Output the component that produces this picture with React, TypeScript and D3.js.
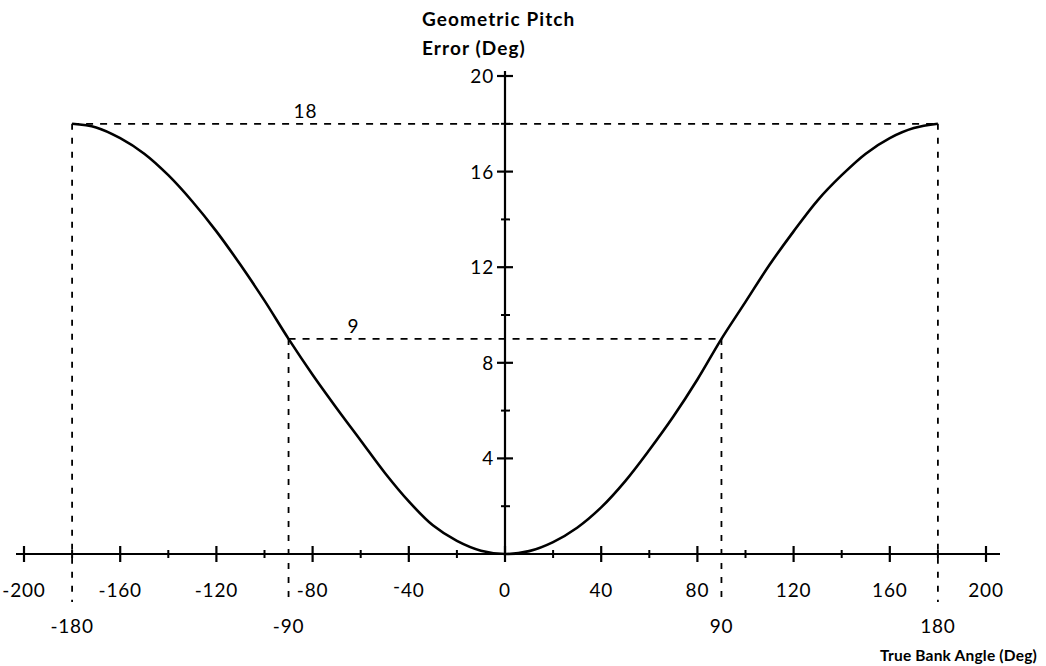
import React from "react";
import * as d3 from "d3";

const bankAngles = [-180, -170, -160, -150, -140, -130, -120, -110, -100, -90, -80, -70, -60, -50, -40, -30, -20, -10, 0,
  10, 20, 30, 40, 50, 60, 70, 80, 90, 100, 110, 120, 130, 140, 150, 160, 170, 180];
const pitchErrors = [18.0, 17.85, 17.4, 16.75, 15.85, 14.75, 13.5, 12.1, 10.6, 9.0, 7.5, 6.1, 4.75, 3.4, 2.2, 1.2, 0.55, 0.14, 0,
  0.12, 0.5, 1.1, 1.95, 3.05, 4.35, 5.75, 7.3, 9.0, 10.55, 12.1, 13.5, 14.8, 15.85, 16.75, 17.4, 17.82, 18.0];

const xMajorTicks = [-200, -160, -120, -80, -40, 0, 40, 80, 120, 160, 200];
const xMajorLabels = ["-200", "-160", "-120", "-80", "-40", "0", "40", "80", "120", "160", "200"];
const xMinorTicks = [-180, -140, -100, -60, -20, 20, 60, 100, 140, 180];
const xRefValues = [-180, -90, 90, 180];
const xRefLabels = ["-180", "-90", "90", "180"];
const yMajorTicks = [4, 8, 12, 16, 20];
const yMinorTicks = [2, 6, 10, 14, 18];
const refLevels = [18, 9];
const refLevelAngles = [180, 90];
const refLabelAngles = [-83, -63];

export default function App() {
  const W = 1046, H = 666;
  const x = d3.scaleLinear().domain([-200, 200]).range([24, 986]);
  const y = d3.scaleLinear().domain([0, 20]).range([554, 76]);
  const pts = bankAngles.map((a, i) => [a, pitchErrors[i]] as [number, number]);
  const line = d3.line<[number, number]>().x(d => x(d[0])).y(d => y(d[1])).curve(d3.curveCatmullRom.alpha(0.5));
  const font = "Lato, 'DejaVu Sans', sans-serif";
  const x0 = x(0), y0 = y(0);
  const renderLabel = (s: string) => {
    if (s === "-40") {
      return (<><tspan dy={-4}>-</tspan><tspan dy={4}>40</tspan></>);
    }
    return s;
  };
  return (
    <svg width={W} height={H} style={{ position: "absolute", left: 0, top: 0, background: "#fff" }} fontFamily={font}>
      {refLevels.map((lv, i) => (
        <g key={"r" + i} stroke="#000" strokeWidth={1.8} fill="none">
          <line x1={x(-refLevelAngles[i])} x2={x(refLevelAngles[i])} y1={y(lv)} y2={y(lv)} strokeDasharray="7,7" />
          <line x1={x(-refLevelAngles[i])} x2={x(-refLevelAngles[i])} y1={y(lv)} y2={602} strokeDasharray="6,8" />
          <line x1={x(refLevelAngles[i])} x2={x(refLevelAngles[i])} y1={y(lv)} y2={602} strokeDasharray="6,8" />
        </g>
      ))}
      {refLevels.map((lv, i) => (
        <text key={"rl" + i} x={x(refLabelAngles[i])} y={y(lv) - 6} fontSize={19} letterSpacing={0.8} textAnchor="middle">{String(lv)}</text>
      ))}
      <line x1={16} x2={1000} y1={y0} y2={y0} stroke="#000" strokeWidth={2} />
      {xMajorTicks.map(t => (
        <line key={"xm" + t} x1={x(t)} x2={x(t)} y1={y0 - 8} y2={y0 + 8} stroke="#000" strokeWidth={2.2} />
      ))}
      {xMinorTicks.map(t => (
        <line key={"xn" + t} x1={x(t)} x2={x(t)} y1={y0 - 4} y2={y0 + 4} stroke="#000" strokeWidth={2} />
      ))}
      {xMajorTicks.map((t, i) => (
        <text key={"xl" + t} x={x(t)} y={597} fontSize={19} letterSpacing={0.8} textAnchor="middle">{renderLabel(xMajorLabels[i])}</text>
      ))}
      {xRefValues.map((t, i) => (
        <text key={"xr" + t} x={x(t)} y={633} fontSize={19} letterSpacing={0.8} textAnchor="middle">{xRefLabels[i]}</text>
      ))}
      <line x1={x0} x2={x0} y1={y0} y2={y(20) - 5} stroke="#000" strokeWidth={2.2} />
      {yMajorTicks.map(t => (
        <line key={"ym" + t} x1={x0 - 8} x2={x0 + 8} y1={y(t)} y2={y(t)} stroke="#000" strokeWidth={2.2} />
      ))}
      {yMinorTicks.map(t => (
        <line key={"yn" + t} x1={x0 - 4} x2={x0 + 5} y1={y(t)} y2={y(t)} stroke="#000" strokeWidth={2} />
      ))}
      {yMajorTicks.map(t => (
        <text key={"yl" + t} x={x0 - 11} y={y(t) + 7} fontSize={19} letterSpacing={0.8} textAnchor="end">{String(t)}</text>
      ))}
      <path d={line(pts) || ""} fill="none" stroke="#000" strokeWidth={2.6} />
      <text x={422} y={26} fontSize={19} fontWeight={700} letterSpacing={1.1}>Geometric Pitch</text>
      <text x={422} y={55} fontSize={19} fontWeight={700} letterSpacing={1.1}>Error (Deg)</text>
      <text x={1037} y={661} fontSize={15.5} fontWeight={700} textAnchor="end" letterSpacing={0.2}>
        <tspan>True Bank </tspan><tspan>Angle (Deg)</tspan>
      </text>
    </svg>
  );
}
